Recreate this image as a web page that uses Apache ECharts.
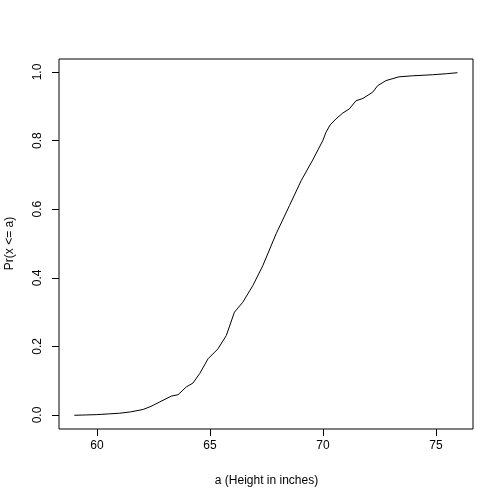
<!DOCTYPE html>
<html><head><meta charset="utf-8">
<script src="https://cdn.jsdelivr.net/npm/echarts@6/dist/echarts.min.js"></script>
<style>html,body{margin:0;padding:0;background:#fff}#c{width:504px;height:504px}</style>
</head><body><div id="c"></div>
<script>
const heights = [59.0,59.5,60.0,60.5,61.0,61.5,62.05,62.4,62.79,63.3,63.6,63.97,64.26,64.56,64.93,65.37,65.74,66.1,66.47,66.92,67.36,67.95,68.54,69.06,69.57,70.02,70.16,70.35,70.6,70.9,71.19,71.49,71.8,72.23,72.45,72.82,73.4,74.0,74.88,75.5,75.99];
const probs = [0.0,0.001,0.002,0.004,0.006,0.010,0.017,0.026,0.039,0.056,0.060,0.083,0.094,0.122,0.165,0.194,0.233,0.301,0.330,0.379,0.437,0.530,0.612,0.685,0.745,0.802,0.826,0.848,0.865,0.882,0.894,0.918,0.925,0.943,0.962,0.977,0.988,0.991,0.994,0.997,1.0];
const xTicks = [60,65,70,75];
const yTicks = [0.0,0.2,0.4,0.6,0.8,1.0];
const xName = 'a (Height in inches)';
const yName = 'Pr(x <= a)';

const font = {fontFamily:'Liberation Sans', fontSize:12, color:'#000'};
const gridBase = {containLabel:false, outerBoundsMode:'none', show:false};
const chart = echarts.init(document.getElementById('c'), null, {renderer:'canvas'});
chart.setOption({
  animation:false,
  grid:[
    Object.assign({}, gridBase, {left:59, right:31, top:59, bottom:75, show:true, borderColor:'#000', borderWidth:1, backgroundColor:'transparent'}),
    Object.assign({}, gridBase, {left:97, right:68, top:59, bottom:75}),
    Object.assign({}, gridBase, {left:59, right:31, top:72, bottom:89})
  ],
  xAxis:[
    {gridIndex:0, type:'value', min:58.32, max:76.68, show:false},
    {gridIndex:1, type:'value', min:xTicks[0], max:xTicks[xTicks.length-1], interval:5,
     axisLine:{show:false}, splitLine:{show:false},
     axisTick:{show:true, length:7, lineStyle:{color:'#000'}},
     axisLabel:Object.assign({margin:11, showMinLabel:true, showMaxLabel:true}, font),
     name:xName, nameLocation:'middle', nameGap:46, nameTextStyle:font},
    {gridIndex:2, type:'value', min:0, max:1, show:false}
  ],
  yAxis:[
    {gridIndex:0, type:'value', min:-0.04, max:1.04, show:false},
    {gridIndex:1, type:'value', min:0, max:1, show:false},
    {gridIndex:2, type:'value', min:yTicks[0], max:yTicks[yTicks.length-1], interval:0.2,
     axisLine:{show:false}, splitLine:{show:false},
     axisTick:{show:true, length:7, lineStyle:{color:'#000'}},
     axisLabel:Object.assign({margin:15, rotate:90, showMinLabel:true, showMaxLabel:true,
       formatter:v=>v.toFixed(1)}, font),
     name:yName, nameLocation:'middle', nameGap:43, nameRotate:90, nameTextStyle:font}
  ],
  series:[{
    type:'line', xAxisIndex:0, yAxisIndex:0, showSymbol:false, symbol:'none',
    data: heights.map((h,i)=>[h, probs[i]]),
    lineStyle:{color:'#000', width:1}
  }]
});
</script></body></html>
